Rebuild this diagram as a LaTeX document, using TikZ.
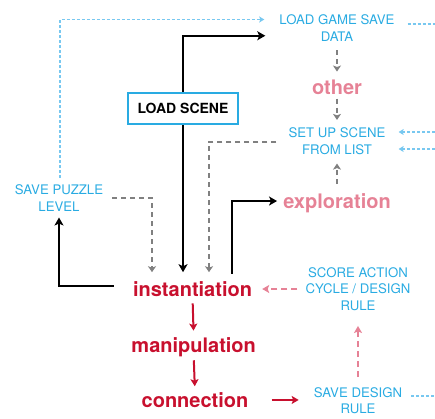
\documentclass[tikz,border=0pt]{standalone}
\usepackage{fontspec}
\setmainfont{TeX Gyre Heros}
\usetikzlibrary{arrows.meta}
\definecolor{skyblue}{RGB}{41,171,226}
\definecolor{lightsky}{RGB}{120,200,240}
\definecolor{crimson}{RGB}{200,16,46}
\definecolor{rose}{RGB}{230,130,150}
\begin{document}
\begin{tikzpicture}[x=1pt, y=-1pt,
  lbl/.style={text=skyblue, align=center, inner sep=0pt, font=\fontsize{13.2}{16.7}\selectfont},
  phase/.style={text=crimson, inner sep=0pt, font=\fontsize{20}{24}\selectfont\bfseries},
  aside/.style={phase, text=rose},
  blk/.style={line width=2pt, -{Stealth[length=8pt, width=9pt, inset=2pt]}},
  gry/.style={line width=2pt, gray, dash pattern=on 5pt off 4pt, -{Stealth[length=6pt, width=8pt, inset=1.5pt]}},
  redarr/.style={line width=2pt, crimson, -{Stealth[length=7pt, width=8pt, inset=1.5pt]}},
  pnk/.style={line width=2pt, rose, dash pattern=on 6pt off 4pt, -{Stealth[length=7pt, width=8pt, inset=1.5pt]}},
  feed/.style={line width=1.1pt, lightsky, dash pattern=on 3pt off 2pt},
  feedarr/.style={feed, -{Stealth[length=5pt, width=6pt, inset=1pt]}}]
\useasboundingbox (0,0) rectangle (435,418);
% right column
\node[lbl] (gamesave) at (337,27.75) {LOAD GAME SAVE\\DATA};
\node[aside, anchor=base] (other) at (337,94.3) {other};
\node[lbl] (setup) at (337,141.5) {SET UP SCENE\\FROM LIST};
\node[aside, anchor=base] (explore) at (337,208.3) {exploration};
\node[lbl] (score) at (358,289) {SCORE ACTION\\CYCLE / DESIGN\\RULE};
\node[lbl] (savedesign) at (358,400.6) {SAVE DESIGN\\RULE};
% left and middle
\node[lbl] (savepuzzle) at (59,198) {SAVE PUZZLE\\LEVEL};
\node[draw=skyblue, line width=2pt, minimum width=110pt, minimum height=31pt,
  font=\fontsize{14}{16}\selectfont\bfseries] (loadscene) at (183,108.5) {LOAD SCENE};
\node[phase, anchor=base] (inst) at (192.5,296) {instantiation};
\node[phase, anchor=base] (manip) at (193.7,352.7) {manipulation};
\node[phase, anchor=base] (conn) at (195,407.3) {connection};
% page edge
\coordinate (edgeA) at (435,24);
\coordinate (edgeB) at (435,132);
\coordinate (edgeC) at (435,149);
\coordinate (edgeD) at (435,396);
% black flow
\draw[blk] (loadscene.north) |- ([shift={(-14,8)}]gamesave.west);
\draw[blk, shorten >=8.7pt] (loadscene.south) -- (loadscene.south |- inst.north);
\draw[blk] ([shift={(39.5,-7)}]inst.north) |- ([shift={(-6,-2)}]explore.west);
\draw[blk] ([shift={(-19,-3)}]inst.west) -| ([shift={(0,6)}]savepuzzle.south);
% gray dashed
\draw[gry] ([xshift=9pt]savepuzzle.east) -| ([shift={(-40.5,-8.7)}]inst.north);
\draw[gry] ([xshift=-12pt]setup.west) -| ([shift={(16.5,-8.7)}]inst.north);
\draw[gry, shorten <=9pt, shorten >=8pt] (gamesave.south) -- (other.north);
\draw[gry, shorten <=4pt, shorten >=8pt] (other.south) -- (setup.north);
\draw[gry, shorten <=9pt, shorten >=8.5pt] (explore.north) -- (setup.south);
% red phases
\draw[redarr, shorten <=7pt, shorten >=7pt] (inst.south) -- (manip.north);
\draw[redarr, shorten <=3pt, shorten >=6pt] (manip.south) -- (conn.north);
\draw[redarr, shorten <=23pt, shorten >=15pt] (conn.east) -- (conn.east -| savedesign.west);
% pink dashed
\draw[pnk, shorten <=8pt, shorten >=10pt] (score.west) -- (score.west -| inst.east);
\draw[pnk, shorten <=10pt, shorten >=15pt] (savedesign.north) -- (score.south);
% light blue dotted
\draw[feedarr] ([shift={(1,-7)}]savepuzzle.north) |- ([shift={(-15,-8.25)}]gamesave.west);
\draw[feed, shorten <=13pt] (edgeA -| gamesave.east) -- (edgeA);
\draw[feedarr, shorten >=13pt] (edgeB) -- (edgeB -| setup.east);
\draw[feedarr, shorten >=13pt] (edgeC) -- (edgeC -| setup.east);
\draw[feed, shorten <=9pt] (edgeD -| savedesign.east) -- (edgeD);
\end{tikzpicture}
\end{document}
